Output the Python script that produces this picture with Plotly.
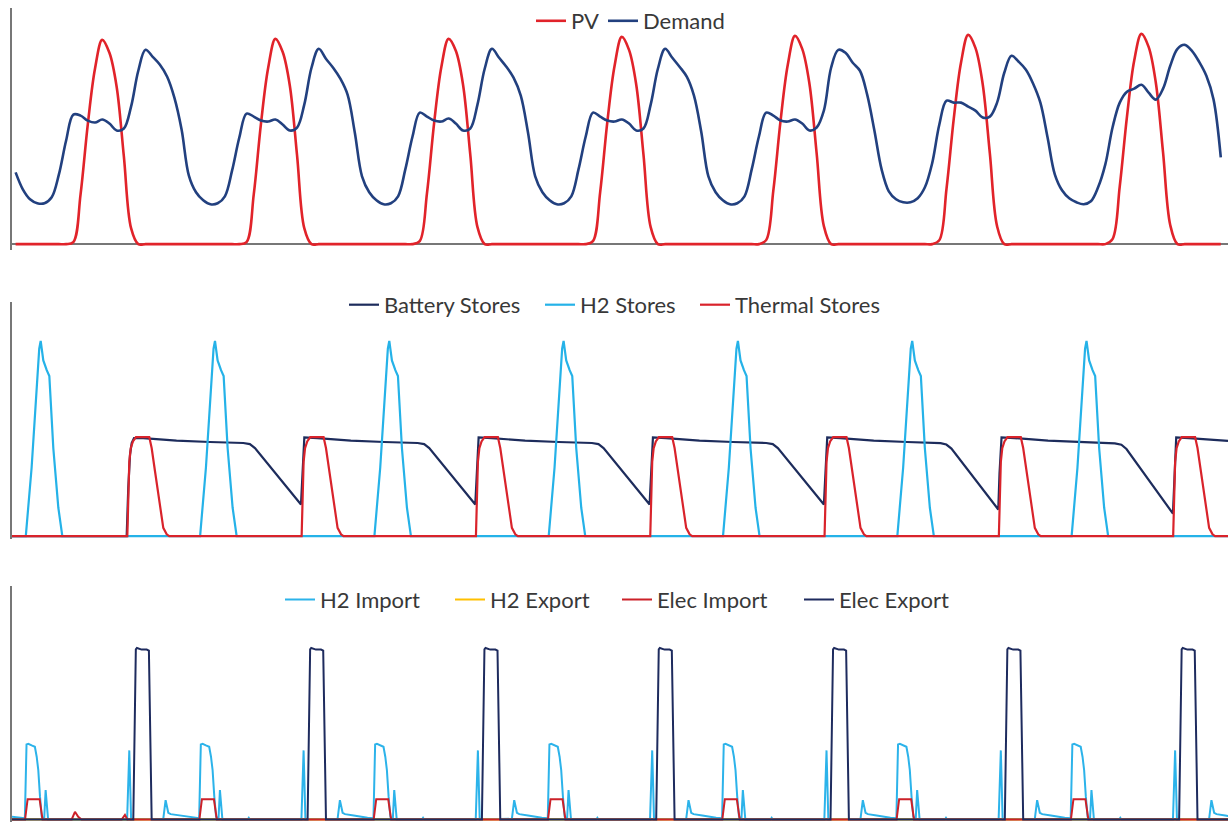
import plotly.graph_objects as go

# ---------------------------------------------------------------------------
# Panel 1 - hourly PV output and electricity demand (kW), 24 values per day
# ---------------------------------------------------------------------------
pv_days = [
    [0.0] * 8 + [0.1, 2.5, 6.0, 8.8, 10.25, 9.6, 7.9, 4.4, 0.8] + [0.0] * 7,
    [0.0] * 8 + [0.1, 2.5, 6.05, 8.85, 10.3, 9.65, 7.95, 4.45, 0.8] + [0.0] * 7,
    [0.0] * 8 + [0.15, 2.55, 6.1, 8.9, 10.3, 9.7, 8.0, 4.5, 0.85] + [0.0] * 7,
    [0.0] * 8 + [0.15, 2.6, 6.15, 8.95, 10.4, 9.75, 8.0, 4.5, 0.85] + [0.0] * 7,
    [0.0] * 8 + [0.2, 2.7, 6.2, 9.0, 10.45, 9.8, 8.05, 4.55, 0.9] + [0.0] * 7,
    [0.0] * 8 + [0.2, 2.8, 6.3, 9.1, 10.5, 9.85, 8.05, 4.55, 0.9] + [0.0] * 7,
    [0.0] * 8 + [0.25, 2.9, 6.4, 9.2, 10.55, 9.9, 8.1, 4.6, 0.95] + [0.0] * 7,
]

demand_days = [
    [3.6, 2.75, 2.25, 2.05, 2.05, 2.35, 3.5, 5.2, 6.5, 6.45, 6.2, 6.1,
     6.25, 6.05, 5.7, 5.8, 6.9, 8.7, 9.75, 9.4, 9.0, 8.4, 7.35, 5.75],
    [3.45, 2.6, 2.2, 2.0, 2.05, 2.4, 3.7, 5.35, 6.55, 6.4, 6.2, 6.15,
     6.25, 6.0, 5.7, 5.85, 7.0, 8.85, 9.8, 9.3, 8.85, 8.3, 7.5, 5.6],
    [3.4, 2.6, 2.2, 2.0, 2.05, 2.4, 3.75, 5.4, 6.6, 6.4, 6.2, 6.15,
     6.3, 6.05, 5.7, 5.8, 7.0, 8.8, 9.8, 9.35, 8.9, 8.35, 7.45, 5.6],
    [3.4, 2.6, 2.2, 2.0, 2.05, 2.4, 3.75, 5.4, 6.6, 6.4, 6.2, 6.15,
     6.25, 6.05, 5.7, 5.8, 7.0, 8.8, 9.8, 9.35, 8.9, 8.4, 7.45, 5.65],
    [3.4, 2.6, 2.2, 2.0, 2.05, 2.4, 3.75, 5.4, 6.6, 6.45, 6.2, 6.15,
     6.25, 6.05, 5.7, 5.85, 6.7, 8.85, 9.75, 9.6, 9.1, 8.7, 7.5, 5.7],
    [3.75, 2.65, 2.25, 2.1, 2.1, 2.3, 2.85, 4.05, 6.0, 7.2, 7.1, 7.1,
     6.9, 6.7, 6.35, 6.4, 7.1, 8.6, 9.45, 9.15, 8.75, 8.05, 7.1, 5.35],
    [3.5, 2.7, 2.3, 2.1, 2.0, 2.15, 2.85, 4.0, 5.85, 7.1, 7.65, 7.8,
     8.0, 7.6, 7.25, 7.8, 8.95, 9.8, 10.0, 9.7, 9.15, 8.45, 7.25, 4.35],
]

# ---------------------------------------------------------------------------
# Panels 2 and 3 - dispatch results logged at irregular time stamps
# breakpoints are (hour of day, value); the run covers WINDOW hours
# ---------------------------------------------------------------------------
WINDOW = (-0.55, 166.88)

# state of charge of the stores (p.u.)
battery_days = [
    [(15.24, 0.0), (15.46, 0.247), (15.7, 0.417), (15.93, 0.477), (16.25, 0.502),
     (17.5, 0.502), (22.1, 0.489)],
    [(2.7, 0.482), (7.3, 0.477), (8.2, 0.471), (8.9, 0.451), (15.24, 0.162),
     (15.42, 0.33), (15.7, 0.505), (17.5, 0.502), (22.1, 0.489)],
    [(2.7, 0.482), (7.3, 0.477), (8.2, 0.471), (8.9, 0.451), (15.24, 0.162),
     (15.42, 0.33), (15.7, 0.505), (17.5, 0.502), (22.1, 0.489)],
    [(2.7, 0.482), (7.3, 0.477), (8.2, 0.471), (8.9, 0.451), (15.24, 0.162),
     (15.42, 0.33), (15.7, 0.505), (17.5, 0.502), (22.1, 0.489)],
    [(2.7, 0.482), (7.3, 0.477), (8.2, 0.471), (8.9, 0.451), (15.24, 0.162),
     (15.42, 0.33), (15.7, 0.505), (17.5, 0.502), (22.1, 0.489)],
    [(2.7, 0.482), (7.3, 0.476), (8.1, 0.469), (8.8, 0.448), (15.25, 0.136),
     (15.42, 0.32), (15.7, 0.505), (17.5, 0.502), (22.1, 0.489)],
    [(2.7, 0.481), (7.3, 0.475), (8.2, 0.468), (8.9, 0.446), (15.3, 0.115),
     (15.48, 0.31), (15.75, 0.505), (17.5, 0.502), (22.88, 0.488)],
]
battery_start = 0.0

h2_store_day = [(1.35, 0.0), (2.15, 0.35), (2.85, 0.76), (3.2, 0.96), (3.4, 1.0),
                (3.58, 0.96), (3.76, 0.9), (4.23, 0.85), (4.59, 0.82), (5.14, 0.45),
                (5.83, 0.145), (6.38, 0.0)]
h2_store_days = [h2_store_day] * 7

thermal_day = [(15.33, 0.0), (15.6, 0.38), (15.8, 0.45), (16.1, 0.485), (16.52, 0.507),
               (18.35, 0.507), (18.68, 0.451), (19.14, 0.332), (19.83, 0.145),
               (20.28, 0.042), (20.75, 0.009), (21.1, 0.0)]
thermal_days = [thermal_day] * 7

# imports and exports (MW)
h2_import_days = [
    [(0.5, 0.05), (1.22, 0.04), (1.45, 2.25), (1.7, 2.27), (2.15, 2.22), (2.6, 2.18),
     (2.85, 1.88), (3.07, 1.48), (3.3, 0.7), (3.55, 0.08), (3.8, 0.03), (3.88, 0.0),
     (4.08, 0.88), (4.42, 0.0), (15.3, 0.0), (15.6, 2.07), (15.85, 0.0), (20.28, 0.02),
     (20.6, 0.58), (20.97, 0.2), (21.3, 0.16), (22.5, 0.12), (23.5, 0.08)],
] + [
    [(0.4, 0.05), (1.22, 0.04), (1.45, 2.25), (1.7, 2.27), (2.15, 2.22), (2.6, 2.18),
     (2.85, 1.88), (3.07, 1.48), (3.3, 0.7), (3.55, 0.08), (3.8, 0.03), (3.88, 0.0),
     (4.08, 0.88), (4.42, 0.0), (7.9, 0.0), (8.05, 0.05), (8.2, 0.0), (15.3, 0.0),
     (15.6, 2.07), (15.85, 0.0), (20.28, 0.02), (20.6, 0.58), (20.97, 0.2),
     (21.3, 0.16), (22.5, 0.12), (23.5, 0.08)],
] * 6
h2_import_start = 0.08

elec_import_days = [
    [(1.25, 0.0), (1.6, 0.61), (3.25, 0.61), (3.65, 0.0), (7.67, 0.0), (8.12, 0.23),
     (8.57, 0.08), (9.03, 0.0), (14.55, 0.0), (15.0, 0.14), (15.33, 0.0)],
] + [
    [(1.25, 0.0), (1.6, 0.61), (3.25, 0.61), (3.65, 0.0)],
] * 6

elec_export_day = [(16.15, 0.0), (16.5, 5.1), (16.65, 5.14), (17.3, 5.09), (18.0, 5.09),
                   (18.3, 5.06), (18.68, 0.0)]
elec_export_days = [elec_export_day] * 7

h2_export_days = [[]] * 7   # no hydrogen was exported during the week


def hourly(days):
    vals = [v for day in days for v in day]
    return list(range(len(vals))), vals


def stamped(days, start_val=0.0, end_val=None):
    t, v = [WINDOW[0]], [start_val]
    for d, pts in enumerate(days):
        for h, val in pts:
            t.append(24 * d + h)
            v.append(val)
    if t[-1] < WINDOW[1]:
        t.append(WINDOW[1])
        v.append(v[-1] if end_val is None else end_val)
    return t, v


# ---------------------------------------------------------------------------
# figure
# ---------------------------------------------------------------------------
W, H = 1230, 822
AXIS_GREY = "#777777"
TEXT = "#383838"
FONT = "Lato"

fig = go.Figure()


def add(t, v, name, color, width, axis, legend, spline=False):
    fig.add_trace(go.Scatter(
        x=t, y=v, name=name, mode="lines",
        line=dict(color=color, width=width, shape="spline" if spline else "linear",
                  smoothing=1.0),
        xaxis="x" + axis, yaxis="y" + axis, legend=legend, hoverinfo="skip",
    ))


x_h, pv = hourly(pv_days)
_, demand = hourly(demand_days)
add(x_h, pv, "PV", "#E1232A", 2.6, "", "legend", spline=True)
add(x_h, demand, "Demand", "#22407F", 2.6, "", "legend2", spline=True)

add(*stamped(battery_days, battery_start), "Battery Stores", "#1D2C5C", 2.2, "2", "legend3")
add(*stamped(h2_store_days), "H2 Stores", "#25B2E8", 2.2, "2", "legend4")
add(*stamped(thermal_days), "Thermal Stores", "#D9232B", 2.2, "2", "legend5")

add(*stamped(h2_import_days, h2_import_start), "H2 Import", "#2CB3EA", 2.0, "3", "legend6")
add(*stamped(h2_export_days), "H2 Export", "#FFC000", 2.0, "3", "legend7")
add(*stamped(elec_import_days), "Elec Import", "#CC2129", 2.0, "3", "legend8")
add(*stamped(elec_export_days), "Elec Export", "#1E2B5E", 2.0, "3", "legend9")


def px_x(p):
    return p / W


def px_y(p):
    return 1 - p / H


x_dom = [px_x(12), px_x(1228)]
common_x = dict(showgrid=False, zeroline=False, showline=False, showticklabels=False,
                ticks="", fixedrange=True)
common_y = dict(showgrid=False, showticklabels=False, ticks="", showline=True,
                linecolor=AXIS_GREY, linewidth=1.5, zeroline=True,
                zerolinecolor=AXIS_GREY, zerolinewidth=1.5, layer="below traces",
                fixedrange=True)

layout = dict(
    width=W, height=H, margin=dict(l=0, r=0, t=0, b=0),
    paper_bgcolor="white", plot_bgcolor="white", showlegend=True,
    xaxis=dict(domain=x_dom, range=[-0.5, 168.0], anchor="y", **common_x),
    yaxis=dict(domain=[px_y(248), px_y(5)], range=[-0.3, 11.85], anchor="x", **common_y),
    xaxis2=dict(domain=x_dom, range=list(WINDOW), anchor="y2", **common_x),
    yaxis2=dict(domain=[px_y(538), px_y(300)], range=[-0.0153, 1.2], anchor="x2", **common_y),
    xaxis3=dict(domain=x_dom, range=list(WINDOW), anchor="y3", **common_x),
    yaxis3=dict(domain=[0, px_y(585)], range=[-0.075, 7.0], anchor="x3", **common_y),
)

# one legend entry per series, laid out in a row above each panel
legend_rows = [
    ("legend", 536, 18), ("legend2", 608, 18),
    ("legend3", 349, 303), ("legend4", 545, 303), ("legend5", 700, 303),
    ("legend6", 285, 599), ("legend7", 455, 599), ("legend8", 622, 599), ("legend9", 804, 599),
]
for key, lx, ly in legend_rows:
    layout[key] = dict(
        x=px_x(lx - 5), y=px_y(ly), xanchor="left", yanchor="middle",
        orientation="h", bgcolor="rgba(0,0,0,0)", borderwidth=0,
        font=dict(family=FONT, size=22, color=TEXT),
    )

fig.update_layout(**layout)
fig.write_html("out.html")
